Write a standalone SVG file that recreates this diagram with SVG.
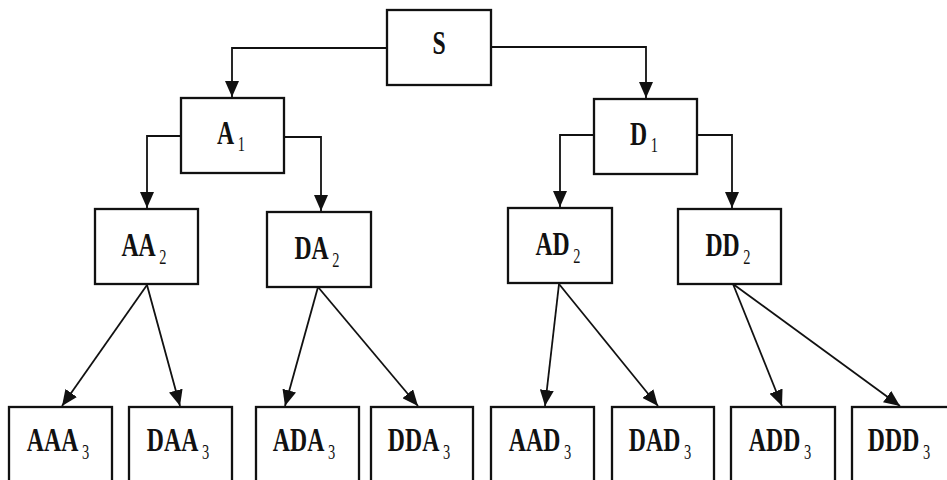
<svg xmlns="http://www.w3.org/2000/svg" width="947" height="480" viewBox="0 0 947 480">
<style>
.box{fill:#fff;stroke:#111;stroke-width:2.3}
.ln{fill:none;stroke:#111;stroke-width:1.8;marker-end:url(#ah)}
.t{font-family:"Liberation Serif","Times New Roman",serif;font-weight:bold;font-size:33px;fill:#111;text-anchor:middle}
.s{font-weight:normal;font-size:20px}
</style>
<defs>
<marker id="ah" markerUnits="userSpaceOnUse" markerWidth="17" markerHeight="14" refX="16" refY="7" orient="auto">
<path d="M0,0 L16,7 L0,14 z" fill="#111"/>
</marker>
</defs>
<rect width="947" height="480" fill="#fff"/>
<g id="connectors">
<path class="ln" d="M387,48 H232 V97"/>
<path class="ln" d="M491,47 H646 V98"/>
<path class="ln" d="M181,136 H147 V208"/>
<path class="ln" d="M284,137 H321 V211"/>
<path class="ln" d="M594,135 H560 V207"/>
<path class="ln" d="M697,135 H732 V208"/>
<path class="ln" d="M147,285 L62,406"/>
<path class="ln" d="M147,285 L180,406"/>
<path class="ln" d="M318,287 L285,406"/>
<path class="ln" d="M318,287 L418,406"/>
<path class="ln" d="M559,284 L545,406"/>
<path class="ln" d="M559,284 L658,406"/>
<path class="ln" d="M733,284 L782,406"/>
<path class="ln" d="M733,284 L900,406"/>
</g>
<g id="S"><rect class="box" x="387" y="10" width="104" height="75"/><text class="t" transform="translate(439,54) scale(0.72 1)">S</text></g>
<g id="A1"><rect class="box" x="181" y="98" width="103" height="75"/><text class="t" transform="translate(231,144) scale(0.72 1)">A<tspan class="s" dx="5" dy="7">1</tspan></text></g>
<g id="D1"><rect class="box" x="594" y="99" width="103" height="75"/><text class="t" transform="translate(644,145) scale(0.72 1)">D<tspan class="s" dx="5" dy="7">1</tspan></text></g>
<g id="AA2"><rect class="box" x="95" y="209" width="103" height="75"/><text class="t" transform="translate(144,256) scale(0.72 1)">AA<tspan class="s" dx="5" dy="8">2</tspan></text></g>
<g id="DA2"><rect class="box" x="267" y="212" width="104" height="75"/><text class="t" transform="translate(317,259) scale(0.72 1)">DA<tspan class="s" dx="5" dy="8">2</tspan></text></g>
<g id="AD2"><rect class="box" x="508" y="208" width="104" height="75"/><text class="t" transform="translate(558,255) scale(0.72 1)">AD<tspan class="s" dx="5" dy="8">2</tspan></text></g>
<g id="DD2"><rect class="box" x="678" y="209" width="103" height="75"/><text class="t" transform="translate(728,256) scale(0.72 1)">DD<tspan class="s" dx="5" dy="8">2</tspan></text></g>
<g id="AAA3"><rect class="box" x="9" y="407" width="103" height="85"/><text class="t" transform="translate(58,451) scale(0.72 1)">AAA<tspan class="s" dx="5" dy="8">3</tspan></text></g>
<g id="DAA3"><rect class="box" x="129" y="407" width="103" height="85"/><text class="t" transform="translate(178,451) scale(0.72 1)">DAA<tspan class="s" dx="5" dy="8">3</tspan></text></g>
<g id="ADA3"><rect class="box" x="256" y="407" width="103" height="85"/><text class="t" transform="translate(304,451) scale(0.72 1)">ADA<tspan class="s" dx="5" dy="8">3</tspan></text></g>
<g id="DDA3"><rect class="box" x="371" y="407" width="102" height="85"/><text class="t" transform="translate(419,451) scale(0.72 1)">DDA<tspan class="s" dx="5" dy="8">3</tspan></text></g>
<g id="AAD3"><rect class="box" x="491" y="407" width="103" height="85"/><text class="t" transform="translate(540,451) scale(0.72 1)">AAD<tspan class="s" dx="5" dy="8">3</tspan></text></g>
<g id="DAD3"><rect class="box" x="612" y="407" width="102" height="85"/><text class="t" transform="translate(660,451) scale(0.72 1)">DAD<tspan class="s" dx="5" dy="8">3</tspan></text></g>
<g id="ADD3"><rect class="box" x="731" y="407" width="104" height="85"/><text class="t" transform="translate(780,451) scale(0.72 1)">ADD<tspan class="s" dx="5" dy="8">3</tspan></text></g>
<g id="DDD3"><rect class="box" x="852" y="407" width="104" height="85"/><text class="t" transform="translate(899,451) scale(0.72 1)">DDD<tspan class="s" dx="5" dy="8">3</tspan></text></g>
</svg>
